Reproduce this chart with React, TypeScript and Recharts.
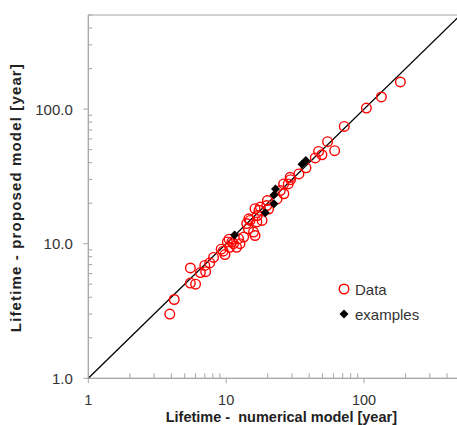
import React from 'react';
import { ScatterChart, Scatter, XAxis, YAxis, ReferenceLine, ReferenceArea, Legend } from 'recharts';

// lifetimes (years)
const dataX = [
  3.9, 4.2, 5.5, 5.5, 6.0, 6.5, 7.0, 7.1, 7.6, 8.1, 9.2, 9.5, 9.8, 10.2, 10.5, 10.6, 11.0, 11.9, 11.3,
  12.3, 12.6, 13.4, 14.1, 14.5, 14.9, 15.8, 16.2, 16.7, 16.2, 17.3, 16.8, 14.6, 18.2, 17.7, 19.7, 19.9,
  20.3, 23.4, 24.7, 26.2, 26.1, 28.2, 29.3, 29.1, 33.7, 37.9, 44.3, 46.8, 49.5, 61.2, 54.4, 71.9, 104,
  133.6, 183.5,
];
const dataY = [
  3.0, 3.85, 5.1, 6.6, 5.0, 6.1, 6.9, 6.2, 7.2, 7.9, 9.1, 8.8, 8.3, 10.3, 10.8, 9.4, 10.3, 9.4, 10.0,
  10.9, 10.0, 11.2, 14.1, 12.9, 14.9, 12.2, 11.5, 14.5, 18.2, 17.7, 16.2, 15.3, 14.9, 18.7, 19.2, 20.9,
  18.1, 21.5, 24.8, 23.5, 27.8, 27.8, 29.9, 31.1, 33.0, 36.6, 43.4, 48.5, 45.8, 49.1, 57.3, 74.3, 101.7,
  123, 159,
];
const exampleX = [11.5, 19.2, 22.2, 22.2, 22.8, 35.5, 37.8];
const exampleY = [11.6, 17.0, 19.8, 23.0, 25.5, 39.0, 41.5];

const axisTicks = [1, 2, 3, 4, 5, 6, 7, 8, 9, 10, 20, 30, 40, 50, 60, 70, 80, 90, 100, 200, 300, 400, 500];
const majorTicks = [1, 10, 100];
const diagonal = [{ x: 1, y: 1 }, { x: 500, y: 500 }];

const dataPoints = dataX.map((x, i) => ({ x, y: dataY[i] }));
const examplePoints = exampleX.map((x, i) => ({ x, y: exampleY[i] }));

const axisColor = '#a6a6a6';
const textColor = '#333';

const XTick = ({ x, y, payload }: any) => {
  const major = majorTicks.includes(payload.value);
  return (
    <g>
      <line x1={x} x2={x} y1={y} y2={major ? y + 5 : y - 5} stroke={axisColor} />
      {major && (
        <text x={x} y={y + 22} textAnchor="middle" dominantBaseline="central" fontSize={14.5} fill={textColor}>
          {payload.value}
        </text>
      )}
    </g>
  );
};

const YTick = ({ x, y, payload }: any) => {
  const major = majorTicks.includes(payload.value);
  return (
    <g>
      <line x1={major ? x - 5 : x} x2={major ? x : x + 4} y1={y} y2={y} stroke={axisColor} />
      {major && (
        <text x={x - 15.5} y={y} textAnchor="end" dominantBaseline="central" fontSize={15} fill={textColor}>
          {payload.value.toFixed(1)}
        </text>
      )}
    </g>
  );
};

const OpenCircle = ({ cx, cy }: any) => (
  <circle cx={cx} cy={cy} r={4.8} fill="none" stroke="#ff0000" strokeWidth={1.4} />
);

const Diamond = ({ cx, cy }: any) => (
  <polygon points={`${cx},${cy - 4.5} ${cx + 4.5},${cy} ${cx},${cy + 4.5} ${cx - 4.5},${cy}`} fill="#000" />
);

const LegendBox = ({ payload }: any) => (
  <div>
    {(payload || []).map((entry: any) => (
      <div key={entry.value} style={{ display: 'flex', alignItems: 'center', height: 25 }}>
        <svg width={12} height={12} style={{ marginRight: 5 }}>
          {entry.value === 'Data'
            ? <circle cx={6} cy={6} r={4.8} fill="none" stroke="#ff0000" strokeWidth={1.4} />
            : <polygon points="6,1.5 10.5,6 6,10.5 1.5,6" fill="#000" />}
        </svg>
        <span style={{ fontSize: 15, color: textColor }}>{entry.value}</span>
      </div>
    ))}
  </div>
);

export default function App() {
  return (
    <div style={{ position: 'absolute', left: 0, top: 0, width: 457, height: 425, overflow: 'hidden', background: '#fff', fontFamily: '"Liberation Sans", Arial, sans-serif' }}>
      <ScatterChart width={470} height={425} margin={{ top: 15, right: 9.6, bottom: 0, left: 0 }}>
        <XAxis
          type="number"
          dataKey="x"
          scale="log"
          domain={[1, 500]}
          ticks={axisTicks}
          interval={0}
          allowDataOverflow
          height={46.7}
          stroke={axisColor}
          tickLine={false}
          tickSize={0}
          tickMargin={0}
          tick={<XTick />}
          label={({ viewBox }: any) => (
            <text
              x={viewBox.x + viewBox.width / 2 + 7}
              y={viewBox.y + 39}
              textAnchor="middle"
              dominantBaseline="central"
              fontSize={14.5}
              fontWeight="bold"
              fill="#222"
            >
              {'Lifetime -\u00a0 numerical model [year]'}
            </text>
          )}
        />
        <YAxis
          type="number"
          dataKey="y"
          scale="log"
          domain={[1, 500]}
          ticks={axisTicks}
          interval={0}
          allowDataOverflow
          width={88.3}
          stroke={axisColor}
          tickLine={false}
          tickSize={0}
          tickMargin={0}
          tick={<YTick />}
          label={({ viewBox }: any) => {
            const cx = viewBox.x + 16;
            const cy = viewBox.y + viewBox.height / 2 + 1.5;
            return (
              <text
                x={cx}
                y={cy}
                transform={`rotate(-90 ${cx} ${cy})`}
                textAnchor="middle"
                dominantBaseline="central"
                fontSize={15}
                fontWeight="bold"
                fill="#222"
                textLength={268}
                lengthAdjust="spacing"
              >
                Lifetime - proposed model [year]
              </text>
            );
          }}
        />
        <ReferenceArea x1={1} x2={500} y1={1} y2={500} fill="none" stroke={axisColor} />
        <ReferenceLine segment={diagonal} stroke="#000" strokeWidth={1.3} />
        <Scatter name="Data" data={dataPoints} shape={<OpenCircle />} isAnimationActive={false} />
        <Scatter name="examples" data={examplePoints} shape={<Diamond />} isAnimationActive={false} />
        <Legend
          layout="vertical"
          align="center"
          verticalAlign="middle"
          content={<LegendBox />}
          wrapperStyle={{ left: 338, top: 276.5, width: 'auto', height: 'auto' }}
        />
      </ScatterChart>
    </div>
  );
}
